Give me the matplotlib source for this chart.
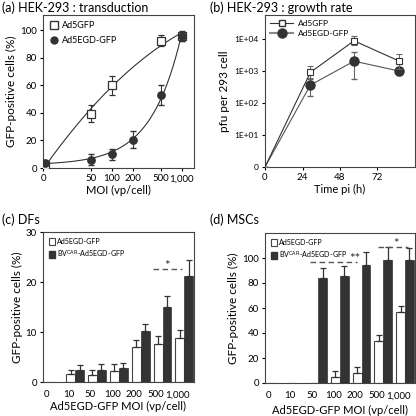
import numpy as np
import matplotlib.pyplot as plt
from matplotlib.patches import Patch
from matplotlib.lines import Line2D
from matplotlib.ticker import NullLocator

plt.rcParams['font.family'] = ['Lato', 'DejaVu Sans']
plt.rcParams['axes.linewidth'] = 0.8
plt.rcParams['axes.edgecolor'] = '#444444'
plt.rcParams['xtick.major.size'] = 2.5
plt.rcParams['ytick.major.size'] = 2.5
plt.rcParams['xtick.major.width'] = 0.8
plt.rcParams['ytick.major.width'] = 0.8
plt.rcParams['xtick.labelsize'] = 7
plt.rcParams['ytick.labelsize'] = 7

# (a) HEK-293 transduction
moi_sq = [0, 50, 100, 500, 1000]
ad5_pct = [2, 39.5, 60, 92.5, 95.5]
ad5_err = [2, 6, 7, 4, 3]
moi_dot = [0, 50, 100, 200, 500, 1000]
egd_pct = [3.5, 6, 10, 20.5, 53, 96]
egd_err = [1.5, 4, 4, 6, 7, 3.5]
moi_labels = ['0', '50', '100', '200', '500', '1,000']

# (b) HEK-293 growth rate
time_h = [0, 29, 57, 86]
ad5_pfu = [1, 910, 8900, 2050]
ad5_lo = [1, 590, 6500, 1200]
ad5_hi = [1, 1460, 12800, 3550]
egd_pfu = [1, 365, 2050, 1000]
egd_lo = [1, 165, 550, 750]
egd_hi = [1, 550, 4000, 1350]

# (c) DFs and (d) MSCs
bar_labels = ['0', '10', '50', '100', '200', '500', '1,000']
df_egd = [0, 1.55, 1.4, 2.2, 7.0, 7.65, 8.85]
df_egd_err = [0, 0.9, 1.0, 1.5, 1.4, 1.5, 1.5]
df_bv = [0, 2.4, 2.45, 2.75, 10.3, 15.0, 21.3]
df_bv_err = [0, 1.0, 1.2, 1.1, 1.4, 2.2, 3.1]
msc_egd = [0, 0.3, 0.3, 4.5, 8, 33.3, 56.8]
msc_egd_err = [0, 0, 0, 4.8, 4.5, 5.4, 5.1]
msc_bv = [0, 0.3, 84, 85.3, 94.7, 98.7, 98.1]
msc_bv_err = [0, 0, 8, 8, 9.8, 9.8, 10]

# significance brackets: x start, x end, height, star x, star text
df_sig = [(4.55, 5.9, 22.7, 5.21, '*')]
msc_sig = [(1.62, 3.77, 96.8, 3.68, '**'), (4.77, 6.15, 109, 5.59, '*')]

W, H = 416, 416
fig = plt.figure(figsize=(W / 100, H / 100), dpi=100)


def box(l, t, r, b):
    return fig.add_axes([l / W, 1 - b / H, (r - l) / W, (b - t) / H])


DARK = '#333333'

# ---- (a)
ax = box(43, 15, 194, 168)
zero_pos = 11
xs = np.array([zero_pos if m == 0 else m for m in moi_sq], float)
xd = np.array([zero_pos if m == 0 else m for m in moi_dot], float)
grid = np.logspace(np.log10(zero_pos), 3, 200)
fit_sq = np.polyfit(np.log10(xs), ad5_pct, 2)
ax.plot(grid, np.polyval(fit_sq, np.log10(grid)), color=DARK, lw=0.8)
fit_dot = np.polyfit(moi_dot, egd_pct, 1)
ax.plot(grid, np.polyval(fit_dot, grid), color=DARK, lw=0.8)
ax.errorbar(xs, ad5_pct, yerr=ad5_err, fmt='s', ms=6.3, mfc='white', mec=DARK,
            mew=0.9, ecolor=DARK, elinewidth=0.8, capsize=2.2, zorder=3)
ax.errorbar(xd, egd_pct, yerr=egd_err, fmt='o', ms=5.3, mfc=DARK, mec=DARK,
            ecolor=DARK, elinewidth=0.8, capsize=2.2, zorder=4)
ax.set_xscale('log')
ax.set_xlim(10.4, 1500)
ax.set_ylim(0, 111)
ax.set_xticks([10.4, 50, 100, 200, 500, 1000])
ax.set_xticklabels(moi_labels)
ax.xaxis.set_minor_locator(NullLocator())
ax.set_yticks([0, 20, 40, 60, 80, 100])
ax.tick_params(top=False, right=False, pad=2)
ax.set_xlabel('MOI (vp/cell)', fontsize=8, labelpad=1)
ax.set_ylabel('GFP-positive cells (%)', fontsize=8.5, labelpad=2)
h = [Line2D([], [], ls='none', marker='s', ms=6, mfc='white', mec=DARK),
     Line2D([], [], ls='none', marker='o', ms=5, mfc=DARK, mec=DARK)]
ax.legend(h, ['Ad5GFP', 'Ad5EGD-GFP'], loc='upper left', frameon=False, fontsize=6.5,
          handlelength=1, handletextpad=0.4, borderaxespad=0.3, labelspacing=0.6)
fig.text(2 / W, 1 - 8 / H, '(a) HEK-293 : transduction', fontsize=9, va='center')

# ---- (b)
ax = box(265, 15, 415, 167)
ax.errorbar(time_h, ad5_pfu,
            yerr=[np.subtract(ad5_pfu, ad5_lo), np.subtract(ad5_hi, ad5_pfu)],
            fmt='-s', color=DARK, lw=0.8, ms=5, mfc='white', mec=DARK, mew=0.8,
            markevery=slice(1, None), ecolor='#666666', elinewidth=0.8, capsize=2.2,
            zorder=3)
ax.errorbar(time_h, egd_pfu,
            yerr=[np.subtract(egd_pfu, egd_lo), np.subtract(egd_hi, egd_pfu)],
            fmt='-o', color='#555555', lw=0.8, ms=6.5, mfc=DARK, mec=DARK,
            markevery=slice(1, None), ecolor='#666666', elinewidth=0.8, capsize=2.2,
            zorder=2)
ax.set_yscale('log')
ax.set_ylim(1, 57000)
ax.set_xlim(0, 96)
ax.set_xticks([0, 24, 48, 72])
ax.set_yticks([1, 10, 100, 1000, 10000])
ax.set_yticklabels(['0', '1E+01', '1E+02', '1E+03', '1E+04'], fontsize=6)
ax.yaxis.set_minor_locator(NullLocator())
ax.tick_params(top=False, right=False, pad=2)
ax.set_xlabel('Time pi (h)', fontsize=8, labelpad=1)
ax.set_ylabel('pfu per 293 cell', fontsize=8.5, labelpad=3)
h = [Line2D([], [], color=DARK, lw=0.8, marker='s', ms=4.5, mfc='white', mec=DARK),
     Line2D([], [], color='#888888', lw=1.5, marker='o', ms=6.5, mfc=DARK, mec=DARK)]
ax.legend(h, ['Ad5GFP', 'Ad5EGD-GFP'], loc='upper left', frameon=False, fontsize=6,
          handlelength=2.8, handletextpad=0.5, borderaxespad=0.2, labelspacing=0.3)
fig.text(210 / W, 1 - 8 / H, '(b) HEK-293 : growth rate', fontsize=9, va='center')


# ---- (c), (d)
def bars(ax, white, werr, black, berr, sigs, ylim, yticks, xpad):
    x = np.arange(len(bar_labels))
    bw = 0.41
    ax.bar(x - bw / 2, white, bw, color='white', edgecolor='#444444', lw=0.8, zorder=2)
    ax.bar(x + bw / 2, black, bw, color=DARK, edgecolor=DARK, lw=0.5, zorder=2)
    for off, v, e in [(-bw / 2, white, werr), (bw / 2, black, berr)]:
        v = np.array(v, float)
        e = np.array(e, float)
        m = e > 0
        ax.errorbar(x[m] + off, v[m], yerr=[np.zeros(m.sum()), e[m]], fmt='none',
                    ecolor=DARK, elinewidth=0.9, capsize=2, capthick=0.9, zorder=3)
    for x0, x1, y, xt, t in sigs:
        ax.plot([x0, x1], [y, y], color='#555555', lw=1, ls=(0, (4, 2.5)), zorder=4)
        ax.annotate(t, (xt, y), xytext=(0, 2), textcoords='offset points',
                    ha='center', va='center', fontsize=9.5, color=DARK)
    ax.set_xlim(-0.47, 6.44)
    ax.set_ylim(*ylim)
    ax.set_yticks(yticks)
    ax.set_xticks(x - 0.3)
    ax.set_xticklabels(bar_labels)
    ax.tick_params(axis='x', length=0, pad=6)
    ax.tick_params(axis='y', pad=2)
    ax.set_ylabel('GFP-positive cells (%)', fontsize=8.5, labelpad=2)
    ax.set_xlabel('Ad5EGD-GFP MOI (vp/cell)', fontsize=8, labelpad=xpad)
    h = [Patch(facecolor='white', edgecolor='#444444', lw=0.8),
         Patch(facecolor=DARK, edgecolor=DARK)]
    ax.legend(h, ['Ad5EGD-GFP', 'BV$^{\\mathrm{CAR}}$-Ad5EGD-GFP'], loc='upper left',
              frameon=False, fontsize=5.1, handlelength=0.9, handleheight=1.15,
              handletextpad=0.3, borderaxespad=0.4, labelspacing=0.5)


ax = box(43, 232, 194, 382)
bars(ax, df_egd, df_egd_err, df_bv, df_bv_err, df_sig, (0, 30), [0, 10, 20, 30], 1.5)
fig.text(2 / W, 1 - 220 / H, '(c) DFs', fontsize=9, va='center')

ax = box(265, 233, 415, 383)
bars(ax, msc_egd, msc_egd_err, msc_bv, msc_bv_err, msc_sig, (0, 120),
     [0, 20, 40, 60, 80, 100], 3)
ax.set_xlim(-0.45, 6.46)
fig.text(210 / W, 1 - 220 / H, '(d) MSCs', fontsize=9, va='center')

fig.savefig('out.png', dpi=100)
